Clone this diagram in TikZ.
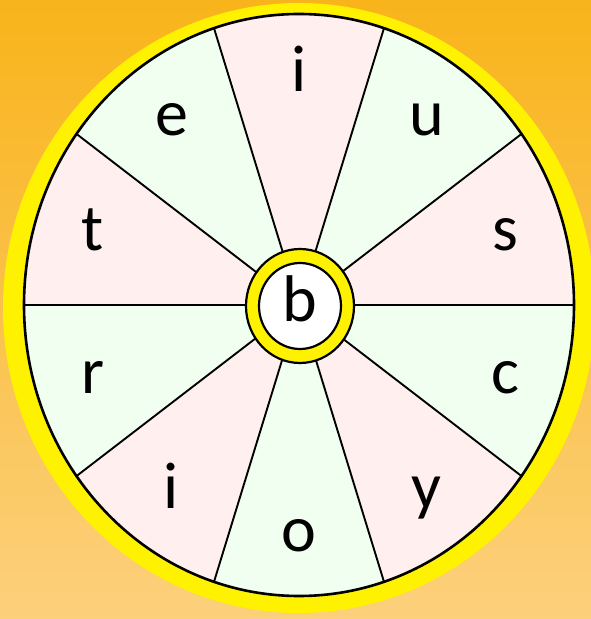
\documentclass[tikz,border=0pt]{standalone}
\usepackage{fontspec}
\setmainfont{Carlito}
\definecolor{bgtop}{HTML}{F9B41B}
\definecolor{bgbot}{HTML}{FCD07C}
\definecolor{wheelpink}{HTML}{FFEFEF}
\definecolor{wheelgreen}{HTML}{F0FFF0}
\begin{document}
\begin{tikzpicture}[
    x=1pt, y=1pt,
    spoke/.style={draw=black, line width=1.9pt},
    rim/.style={draw=black, line width=2.6pt},
    letter/.style={anchor=base, inner sep=0pt, font=\fontsize{66}{66}\selectfont},
    hubline/.style={draw=black, line width=2.2pt}
]

%% Background
\shade[top color=bgtop, bottom color=bgbot] (0,0) rectangle (591,619);
\useasboundingbox (0,0) rectangle (591,619);

%% Yellow ring
\fill[yellow] (299,311) ellipse[x radius=296, y radius=305];

%% Sectors and letters
\coordinate (c) at (299,314);
\foreach \a/\t/\col [count=\i] in {90/i/wheelpink, 54/u/wheelgreen, 18/s/wheelpink,
    -18/c/wheelgreen, -54/y/wheelpink, -90/o/wheelgreen, -126/i/wheelpink,
    -162/r/wheelgreen, 162/t/wheelpink, 126/e/wheelgreen} {
  \fill[\col] (c) -- ++(\a-18:275 and 291)
        arc[start angle=\a-18, end angle=\a+18, x radius=275, y radius=291] -- cycle;
  \path (c) ++(\a:217 and 230) ++(0,-17) node[letter] (l\i) {\t};
}

%% Spokes
\foreach \a in {0,36,...,324} \draw[spoke] (c) -- ++(\a:275 and 291);
\draw[rim] (c) ellipse[x radius=275, y radius=291];

%% Hub
\coordinate (h) at (300,313);
\draw[hubline, fill=yellow] (h) ellipse[x radius=54, y radius=57];
\draw[hubline, fill=white] (h) ellipse[x radius=41, y radius=43];
\node[letter] (hub) at (300,297) {b};

\end{tikzpicture}
\end{document}
